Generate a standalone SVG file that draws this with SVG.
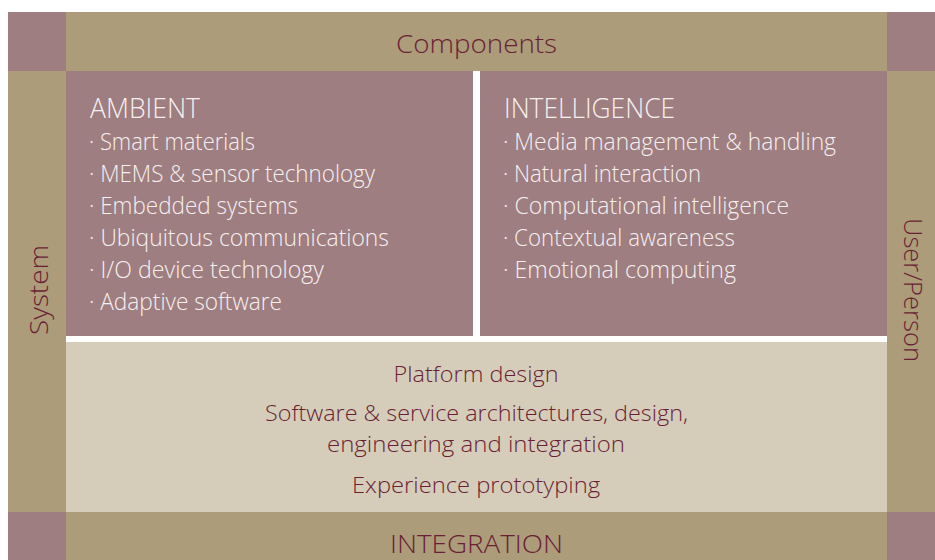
<svg xmlns="http://www.w3.org/2000/svg" width="935" height="560" viewBox="0 0 935 560">
  <style>
    .tan { fill: #ac9c7a; }
    .mauve { fill: #9e7e80; }
    .beige { fill: #d5cdb9; }
    .dark { fill: #6b1e35; font-family: "Open Sans", "Liberation Sans", sans-serif; font-weight: 300; }
    .light { fill: #f7f0f0; font-family: "Open Sans", "Liberation Sans", sans-serif; font-weight: 300; }
    .head { font-size: 28px; }
    .item { font-size: 23px; }
    .label { font-size: 25px; }
    .body { font-size: 22px; }
  </style>
  <rect width="935" height="560" fill="#ffffff"/>

  <!-- corner squares -->
  <g id="corners">
    <rect class="mauve" x="8" y="12" width="58" height="59"/>
    <rect class="mauve" x="887" y="12" width="48" height="59"/>
    <rect class="mauve" x="8" y="512" width="58" height="48"/>
    <rect class="mauve" x="887" y="512" width="48" height="48"/>
  </g>

  <!-- top bar -->
  <g id="components">
    <rect class="tan" x="66" y="12" width="821" height="59"/>
    <text class="dark label" x="476.5" y="53" text-anchor="middle" textLength="161" lengthAdjust="spacingAndGlyphs">Components</text>
  </g>

  <!-- left column -->
  <g id="system">
    <rect class="tan" x="8" y="71" width="58" height="441"/>
    <text class="dark label" transform="translate(48 290) rotate(-90)" text-anchor="middle" textLength="90" lengthAdjust="spacingAndGlyphs">System</text>
  </g>

  <!-- right column -->
  <g id="user-person">
    <rect class="tan" x="887" y="71" width="48" height="441"/>
    <text class="dark label" transform="translate(904 290) rotate(90)" text-anchor="middle" textLength="144" lengthAdjust="spacingAndGlyphs">User/Person</text>
  </g>

  <!-- ambient panel -->
  <g id="ambient">
    <rect class="mauve" x="66" y="71" width="407" height="265"/>
    <text class="light head" x="90" y="118" textLength="110" lengthAdjust="spacingAndGlyphs">AMBIENT</text>
    <text class="light item" x="89" y="150" textLength="166" lengthAdjust="spacingAndGlyphs">· Smart materials</text>
    <text class="light item" x="89" y="182" textLength="286" lengthAdjust="spacingAndGlyphs">· MEMS &amp; sensor technology</text>
    <text class="light item" x="89" y="214" textLength="209" lengthAdjust="spacingAndGlyphs">· Embedded systems</text>
    <text class="light item" x="89" y="246" textLength="300" lengthAdjust="spacingAndGlyphs">· Ubiquitous communications</text>
    <text class="light item" x="89" y="278" textLength="235" lengthAdjust="spacingAndGlyphs">· I/O device technology</text>
    <text class="light item" x="89" y="310" textLength="193" lengthAdjust="spacingAndGlyphs">· Adaptive software</text>
  </g>

  <!-- intelligence panel -->
  <g id="intelligence">
    <rect class="mauve" x="480" y="71" width="407" height="265"/>
    <text class="light head" x="504" y="118" textLength="171" lengthAdjust="spacingAndGlyphs">INTELLIGENCE</text>
    <text class="light item" x="503" y="150" textLength="333" lengthAdjust="spacingAndGlyphs">· Media management &amp; handling</text>
    <text class="light item" x="503" y="182" textLength="198" lengthAdjust="spacingAndGlyphs">· Natural interaction</text>
    <text class="light item" x="503" y="214" textLength="286" lengthAdjust="spacingAndGlyphs">· Computational intelligence</text>
    <text class="light item" x="503" y="246" textLength="232" lengthAdjust="spacingAndGlyphs">· Contextual awareness</text>
    <text class="light item" x="503" y="278" textLength="233" lengthAdjust="spacingAndGlyphs">· Emotional computing</text>
  </g>

  <!-- platform band -->
  <g id="platform">
    <rect class="beige" x="66" y="342" width="821" height="170"/>
    <text class="dark body" x="476" y="382" text-anchor="middle" textLength="165" lengthAdjust="spacingAndGlyphs">Platform design</text>
    <text class="dark body" x="476.5" y="421" text-anchor="middle" textLength="423" lengthAdjust="spacingAndGlyphs">Software &amp; service architectures, design,</text>
    <text class="dark body" x="476" y="452" text-anchor="middle" textLength="298" lengthAdjust="spacingAndGlyphs">engineering and integration</text>
    <text class="dark body" x="476" y="493" text-anchor="middle" textLength="248" lengthAdjust="spacingAndGlyphs">Experience prototyping</text>
  </g>

  <!-- bottom bar -->
  <g id="integration">
    <rect class="tan" x="66" y="512" width="821" height="48"/>
    <text class="dark label" x="476.5" y="553" text-anchor="middle" textLength="173" lengthAdjust="spacingAndGlyphs">INTEGRATION</text>
  </g>

  <g id="connectors"/>
</svg>
